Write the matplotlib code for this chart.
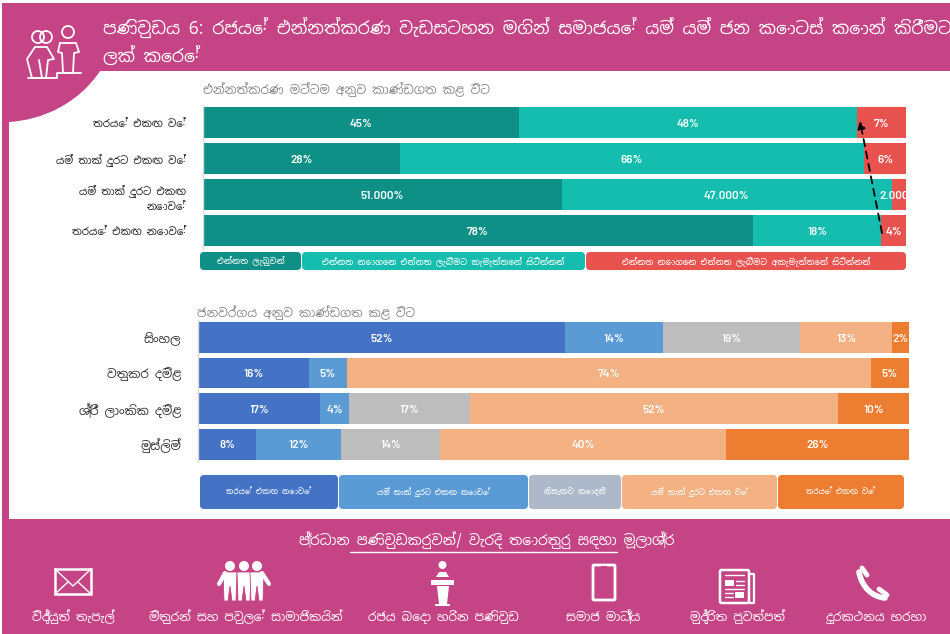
import matplotlib
matplotlib.use('Agg')
import matplotlib.pyplot as plt
from matplotlib.patches import Rectangle, Circle, FancyBboxPatch, Polygon, PathPatch
from matplotlib.path import Path

si_family = ['Noto Sans Sinhala', 'Noto Sans', 'DejaVu Sans']
num_family = ['Barlow', 'Roboto', 'DejaVu Sans']

W, H = 950, 634
PINK = '#C44485'

title_lines = ['පණිවුඩය 6: රජයේ එන්නත්කරණ වැඩසටහන මගින් සමාජයේ යම් යම් ජන කොටස් කොන් කිරීමට', 'ලක් කෙරේ']
sub1 = 'එන්නත්කරණ මට්ටම අනුව කාණ්ඩගත කළ විට'
sub2 = 'ජනවර්ගය අනුව කාණ්ඩගත කළ විට'

vacc_cats = ['තරයේ එකඟ වේ', 'යම් තාක් දුරට එකඟ වේ', 'යම් තාක් දුරට එකඟ\nනොවේ', 'තරයේ එකඟ නොවේ']
vacc_got = [45, 28, 51, 78.2]
vacc_will = [48, 66, 47, 18.3]
vacc_wont = [7, 6, 2, 3.5]
vacc_got_lab = ['45%', '28%', '51.000%', '78%']
vacc_will_lab = ['48%', '66%', '47.000%', '18%']
vacc_wont_lab = ['7%', '6%', '2.000%', '4%']
vacc_colors = ['#0F9087', '#14BDAE', '#E8534F']
vacc_legend = ['එන්නත ලැබුවන්', 'එන්නත නොගෙන එන්නත ලැබීමට කැමැත්තෙන් සිටින්නන්',
               'එන්නත නොගෙන එන්නත ලැබීමට අකැමැත්තෙන් සිටින්නන්']

eth_cats = ['සිංහල', 'වතුකර දමිළ', 'ශ්‍රී ලාංකික දමිළ', 'මුස්ලිම්']
eth_sd = [51.6, 15.6, 17.2, 8.2]
eth_md = [13.8, 5.3, 4.1, 11.9]
eth_dk = [19.3, 0, 16.9, 14.0]
eth_ma = [12.9, 73.7, 51.8, 40.1]
eth_sa = [2.4, 5.4, 10.0, 25.8]
eth_colors = ['#4472C4', '#5B9BD5', '#BDBDBD', '#F4B183', '#ED7D31']
eth_legend = ['තරයේ එකඟ නොවේ', 'යම් තාක් දුරට එකඟ නොවේ', 'නිසැකව නොදනී', 'යම් තාක් දුරට එකඟ වේ', 'තරයේ එකඟ වේ']
eth_legend_colors = ['#4472C4', '#5B9BD5', '#ADB9CA', '#F4B183', '#ED7D31']

foot_title = 'ප්‍රධාන පණිවුඩකරුවන්/ වැරදි තොරතුරු සඳහා මූලාශ්‍ර'
foot_labels = ['විද්‍යුත් තැපැල්', 'මිතුරන් සහ පවුලේ සාමාජිකයින්', 'රජය බෙදා හරින පණිවුඩ',
               'සමාජ මාධ්‍ය', 'මුද්‍රිත පුවත්පත්', 'දුරකථනය හරහා']

fig = plt.figure(figsize=(W / 100, H / 100), dpi=100, facecolor='white')

def px_axes(x0, y0, x1, y1):
    return fig.add_axes([x0 / W, 1 - y1 / H, (x1 - x0) / W, (y1 - y0) / H])

# background layer, in pixels
bg = px_axes(0, 0, W, H)
bg.set_xlim(0, W)
bg.set_ylim(H, 0)
bg.axis('off')
bg.add_patch(Rectangle((2, 3), W, 68, fc=PINK, ec='none'))
bg.add_patch(Rectangle((2, 3), 7, 516, fc=PINK, ec='none'))
bg.add_patch(Rectangle((2, 519), W, 115, fc=PINK, ec='none'))
corner = Path([(9, 71), (100, 71), (78, 104), (42, 120), (9, 122), (9, 71)],
              [Path.MOVETO, Path.LINETO, Path.CURVE4, Path.CURVE4, Path.CURVE4, Path.CLOSEPOLY])
bg.add_patch(PathPatch(corner, fc=PINK, ec='none'))

def si(x, y, s, size, color='white', ha='left', **kw):
    bg.text(x, y, s, fontsize=size, color=color, ha=ha, va='center', family=si_family, **kw)

si(103, 28, title_lines[0], 12.4)
si(103, 57, title_lines[1], 12.4)
si(203, 90, sub1, 8.8, color='#8C8C8C')
si(197, 313, sub2, 8.7, color='#8C8C8C')

# people icon
def line(xs, ys, lw=1.3, color='white'):
    bg.plot(xs, ys, color=color, lw=lw, solid_capstyle='round', solid_joinstyle='round')

for cx, cy, r in [(38, 37, 6), (46, 37, 6), (68, 32, 6)]:
    bg.add_patch(Circle((cx, cy), r, fc='none', ec='white', lw=1.3))
line([35, 47, 54, 48, 46, 32, 27, 35], [47, 47, 59, 60, 78, 78, 59, 47])
line([39, 42], [60, 78])
line([60, 76, 79, 74, 73, 63, 62, 58, 60], [43, 43, 52, 53, 73, 73, 53, 52, 43])
line([28, 57, 57, 81], [78, 78, 73, 73])

def draw_bars(ax, cols, labs, colors):
    lefts = [0] * len(cols[0])
    for vals, lab, col in zip(cols, labs, colors):
        bars = ax.barh(range(len(vals)), vals, left=lefts, height=0.86, color=col, edgecolor='none')
        for b, t in zip(bars, lab):
            if b.get_width() > 0:
                ax.annotate(t, (b.get_x() + b.get_width() / 2, b.get_y() + b.get_height() / 2),
                            xytext=(0, -0.8), textcoords='offset points', ha='center', va='center',
                            color='white', fontsize=8.4, family=num_family, weight='semibold',
                            annotation_clip=False, clip_on=True)
        lefts = [a + v for a, v in zip(lefts, vals)]
    ax.set_xlim(0, 100)
    ax.set_ylim(len(cols[0]) - 0.5, -0.5)
    ax.patch.set_alpha(0)
    ax.set_xticks([])
    for s in ['top', 'right', 'bottom']:
        ax.spines[s].set_visible(False)
    ax.spines['left'].set_color('#D9D9D9')
    ax.spines['left'].set_linewidth(1)

ax1 = px_axes(203, 104.5, 906, 248.5)
draw_bars(ax1, [vacc_got, vacc_will, vacc_wont], [vacc_got_lab, vacc_will_lab, vacc_wont_lab], vacc_colors)
ax1.set_yticks(range(4))
ax1.set_yticklabels(vacc_cats, family=si_family, fontsize=7.4, color='#222222', linespacing=1.6)
ax1.tick_params(axis='y', length=0, pad=12)

ax2 = px_axes(198, 319.7, 909, 462)
eth_cols = [eth_sd, eth_md, eth_dk, eth_ma, eth_sa]
eth_labs = [[f'{v:.0f}%' for v in c] for c in eth_cols]
draw_bars(ax2, eth_cols, eth_labs, eth_colors)
ax2.set_yticks(range(4))
ax2.set_yticklabels(eth_cats, family=si_family, fontsize=8.7, color='#333333')
ax2.tick_params(axis='y', length=0, pad=12)

# overlay for arrow and legend pills
top = px_axes(0, 0, W, H)
top.set_xlim(0, W)
top.set_ylim(H, 0)
top.axis('off')
top.patch.set_alpha(0)
top.annotate('', xy=(860, 121), xytext=(882, 233),
             arrowprops=dict(arrowstyle='-|>', color='black', lw=1.3, linestyle=(0, (4, 3)), mutation_scale=11,
                             shrinkA=0, shrinkB=0))

def pills(spans, y0, y1, names, colors, size):
    for (x0, x1), name, col in zip(spans, names, colors):
        top.add_patch(FancyBboxPatch((x0 + 4, y0 + 4), x1 - x0 - 8, y1 - y0 - 8,
                                     boxstyle='round,pad=4,rounding_size=4', fc=col, ec='none'))
        top.text((x0 + x1) / 2, (y0 + y1) / 2, name, color='white', fontsize=size, ha='center', va='center',
                 family=si_family)

pills([(200, 301), (302, 585), (586, 906)], 252, 270, vacc_legend, vacc_colors, 6.1)
pills([(200, 338), (339, 528), (529, 621), (622, 777), (778, 904)], 475, 509, eth_legend, eth_legend_colors, 5.5)

# footer
si(487, 540, foot_title, 10, ha='center')
line([350, 617], [552, 552], lw=1)
for x, s in zip([73, 246, 443, 603, 737, 877], foot_labels):
    si(x, 617, s, 8.7, ha='center')

# envelope
bg.add_patch(Rectangle((55, 569), 36, 25, fc='none', ec='white', lw=1.8))
line([55, 73, 91], [569, 586, 569], lw=1)
line([55, 68], [594, 582], lw=1)
line([91, 78], [594, 582], lw=1)

# friends
for cx in [230, 244, 257]:
    bg.add_patch(Circle((cx, 566), 5, fc='white', ec='none'))
    bg.add_patch(Polygon([(cx - 7, 572), (cx + 7, 572), (cx + 6, 601), (cx + 2, 601), (cx, 586), (cx - 2, 601), (cx - 6, 601)],
                         fc='white', ec=PINK, lw=0.6))
line([225, 219], [573, 584], lw=3)
line([262, 269], [573, 584], lw=3)

# podium
bg.add_patch(Circle((442.5, 565), 4, fc='white', ec='none'))
bg.add_patch(Polygon([(436, 577), (439, 572), (446, 572), (449, 577)], fc='white', ec='none'))
bg.add_patch(Polygon([(431, 580), (454, 580), (454, 585), (431, 585)], fc='white', ec='none'))
bg.add_patch(Polygon([(437, 586), (449, 586), (447, 604), (439, 604)], fc='white', ec='none'))
bg.add_patch(Rectangle((435, 604), 15, 2, fc='white', ec='none'))

# phone
bg.add_patch(FancyBboxPatch((593, 565), 22, 35, boxstyle='round,pad=0,rounding_size=1', fc='none', ec='white', lw=2))
line([602, 606], [566.5, 566.5], lw=1.5, color=PINK)

# newspaper
bg.add_patch(FancyBboxPatch((720, 570), 29, 33, boxstyle='round,pad=0,rounding_size=1.5', fc='none', ec='white', lw=1.8))
line([750, 754, 754, 750], [574, 574, 603, 603], lw=1.6)
bg.add_patch(Rectangle((725, 580), 9, 6, fc='white', ec='none'))
bg.add_patch(Rectangle((735, 592), 9, 6, fc='white', ec='none'))
for y in [575, 581, 585, 589]:
    line([725 if y in (575, 589) else 736, 744], [y, y], lw=1)
for y in [593, 597]:
    line([725, 733], [y, y], lw=1)

# handset
hand = Path([(859, 572), (862, 588), (873, 597), (885, 598)], [Path.MOVETO, Path.CURVE4, Path.CURVE4, Path.CURVE4])
bg.add_patch(PathPatch(hand, fc='none', ec='white', lw=4, capstyle='round'))
line([862, 867], [568, 575], lw=3.5)
line([879, 887], [589, 595], lw=3.5)

fig.savefig('out.png', dpi=100, facecolor='white')
